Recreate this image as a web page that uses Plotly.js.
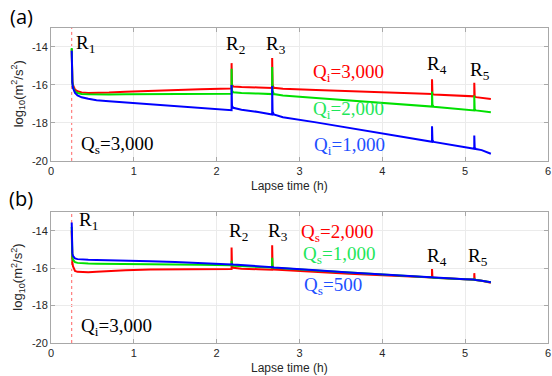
<!DOCTYPE html>
<html>
<head>
<meta charset="utf-8">
<script src="https://cdn.plot.ly/plotly-3.0.1.min.js"></script>
<style>html,body{margin:0;padding:0;background:#fff;}#chart{width:552px;height:376px;}</style>
</head>
<body>
<div id="chart"></div>
<script>
// Shared lapse-time grid (h); repeated times mark the vertical spikes at R2..R5
const time = [0.25,0.253,0.258,0.265,0.275,0.29,0.32,0.37,0.45,0.55,0.7,0.9,1.2,1.5,1.8,2.17,
  2.18,2.18,2.185,2.2,2.3,2.5,2.66,2.67,2.67,2.675,2.69,2.8,3.2,3.6,4.0,4.4,4.59,
  4.6,4.6,4.605,4.62,4.8,5.0,5.1,5.11,5.11,5.115,5.13,5.2,5.31];

// (a) Qs = 3,000, varying Qi
const a_qi3000 = [-14.1,-15.3,-15.8,-16.0,-16.15,-16.25,-16.33,-16.39,-16.42,-16.42,-16.4,-16.36,-16.31,-16.27,-16.23,-16.19,
  -16.19,-14.85,-16.0,-16.08,-16.11,-16.13,-16.16,-16.16,-14.58,-16.0,-16.15,-16.2,-16.26,-16.32,-16.38,-16.44,-16.47,
  -16.47,-15.7,-16.45,-16.5,-16.54,-16.58,-16.6,-16.6,-15.88,-16.6,-16.64,-16.67,-16.74];
const a_qi2000 = [-14.05,-15.3,-15.85,-16.1,-16.25,-16.35,-16.42,-16.47,-16.49,-16.5,-16.5,-16.49,-16.48,-16.47,-16.46,-16.46,
  -16.46,-15.15,-16.3,-16.38,-16.42,-16.45,-16.48,-16.48,-15.05,-16.3,-16.48,-16.55,-16.68,-16.82,-16.95,-17.07,-17.13,
  -17.14,-16.35,-17.05,-17.15,-17.22,-17.3,-17.33,-17.34,-16.55,-17.28,-17.34,-17.37,-17.44];
const a_qi1000 = [-14.2,-15.4,-15.9,-16.15,-16.3,-16.42,-16.55,-16.65,-16.73,-16.8,-16.86,-16.92,-17.0,-17.1,-17.2,-17.33,
  -17.33,-16.0,-17.1,-17.2,-17.3,-17.42,-17.55,-17.56,-16.05,-17.4,-17.55,-17.7,-17.97,-18.26,-18.55,-18.85,-18.98,
  -18.99,-18.17,-18.9,-19.0,-19.12,-19.25,-19.33,-19.36,-18.66,-19.3,-19.37,-19.43,-19.62];

// (b) Qi = 3,000, varying Qs
const b_qs2000 = [-14.0,-15.3,-15.7,-15.9,-16.05,-16.15,-16.2,-16.22,-16.22,-16.2,-16.16,-16.12,-16.08,-16.06,-16.05,-16.05,
  -16.05,-14.9,-15.9,-15.98,-16.03,-16.06,-16.09,-16.09,-14.78,-15.98,-16.07,-16.1,-16.2,-16.3,-16.38,-16.46,-16.5,
  -16.5,-16.05,-16.5,-16.52,-16.56,-16.6,-16.62,-16.62,-16.27,-16.62,-16.64,-16.67,-16.78];
const b_qs1000 = [-13.8,-15.1,-15.4,-15.55,-15.63,-15.68,-15.72,-15.74,-15.75,-15.76,-15.76,-15.77,-15.78,-15.8,-15.82,-15.85,
  -15.85,-15.6,-15.85,-15.87,-15.9,-15.93,-15.97,-15.97,-15.45,-15.95,-15.98,-16.02,-16.13,-16.24,-16.35,-16.46,-16.5,
  -16.5,-16.45,-16.5,-16.51,-16.55,-16.59,-16.62,-16.62,-16.55,-16.62,-16.64,-16.67,-16.76];
const b_qs500 = [-13.56,-14.9,-15.2,-15.35,-15.43,-15.48,-15.52,-15.54,-15.55,-15.56,-15.57,-15.59,-15.63,-15.67,-15.72,-15.8,
  -15.8,-15.75,-15.8,-15.81,-15.84,-15.9,-15.95,-15.95,-15.9,-15.95,-15.97,-16.01,-16.12,-16.24,-16.35,-16.46,-16.5,
  -16.5,-16.48,-16.5,-16.51,-16.55,-16.59,-16.61,-16.62,-16.6,-16.62,-16.64,-16.67,-16.75];

const injectionTime = 0.25;
const xTicks = [0,1,2,3,4,5,6];
const yTicks = [-20,-18,-16,-14];

const RED = '#ff0000', GREEN = '#00e000', BLUE = '#0000ff';
const GREEN_T = '#1ee65a', BLUE_T = '#1e50ff';

function tr(y, color, xa, ya) {
  return {x: time, y: y, type: 'scatter', mode: 'lines', xaxis: xa, yaxis: ya,
    line: {color: color, width: 2}, hoverinfo: 'skip', showlegend: false};
}
const data = [
  tr(a_qi3000, RED, 'x', 'y'), tr(a_qi2000, GREEN, 'x', 'y'), tr(a_qi1000, BLUE, 'x', 'y'),
  tr(b_qs2000, RED, 'x2', 'y2'), tr(b_qs1000, GREEN, 'x2', 'y2'), tr(b_qs500, BLUE, 'x2', 'y2')
];

const axFont = {family: 'Liberation Sans, Arial, sans-serif', size: 11, color: '#262626'};
function xax(anchor) {
  return {anchor: anchor, range: [0,6], tickvals: xTicks, ticktext: xTicks.map(String),
    showgrid: true, gridcolor: '#ebebeb', zeroline: false, showline: true, mirror: 'ticks',
    linecolor: '#a8a8a8', linewidth: 1, ticks: 'inside', ticklen: 4, tickcolor: '#a8a8a8',
    tickfont: axFont, fixedrange: true};
}
function yax(anchor, domain) {
  return {anchor: anchor, domain: domain, range: [-20,-13], tickvals: yTicks, ticktext: yTicks.map(v => '-' + Math.abs(v)),
    showgrid: true, gridcolor: '#ebebeb', zeroline: false, showline: true, mirror: 'ticks',
    linecolor: '#a8a8a8', linewidth: 1, ticks: 'inside', ticklen: 4, tickcolor: '#a8a8a8',
    tickfont: axFont, fixedrange: true};
}

const serif = 'Liberation Serif, Times New Roman, serif';
function ann(xr, yr, x, y, text, color, size) {
  return {xref: xr, yref: yr, x: x, y: y, text: text, showarrow: false,
    xanchor: 'left', yanchor: 'middle', font: {family: serif, size: size || 19, color: color || '#000'}};
}
const sans = 'Liberation Sans, Arial, sans-serif';
function paperTxt(x, y, text, size, angle) {
  return {xref: 'paper', yref: 'paper', x: x, y: y, text: text, showarrow: false,
    xanchor: 'center', yanchor: 'middle', textangle: angle || 0,
    font: {family: sans, size: size, color: '#262626'}};
}

const annotations = [
  ann('x','y',0.28,-13.85,'R<sub>1</sub>'),
  ann('x','y',2.09,-13.9,'R<sub>2</sub>'),
  ann('x','y',2.57,-13.9,'R<sub>3</sub>'),
  ann('x','y',4.52,-14.95,'R<sub>4</sub>'),
  ann('x','y',5.03,-15.27,'R<sub>5</sub>'),
  ann('x','y',0.34,-19.15,'Q<sub>s</sub>=3,000'),
  ann('x','y',3.14,-15.35,'Q<sub>i</sub>=3,000', RED),
  ann('x','y',3.14,-17.3,'Q<sub>i</sub>=2,000', GREEN_T),
  ann('x','y',3.15,-19.2,'Q<sub>i</sub>=1,000', BLUE_T),
  ann('x2','y2',0.31,-13.5,'R<sub>1</sub>'),
  ann('x2','y2',2.13,-14.08,'R<sub>2</sub>'),
  ann('x2','y2',2.6,-14.08,'R<sub>3</sub>'),
  ann('x2','y2',4.52,-15.42,'R<sub>4</sub>'),
  ann('x2','y2',5.01,-15.42,'R<sub>5</sub>'),
  ann('x2','y2',0.34,-19.15,'Q<sub>i</sub>=3,000'),
  ann('x2','y2',2.99,-14.1,'Q<sub>s</sub>=2,000', RED),
  ann('x2','y2',3.02,-15.28,'Q<sub>s</sub>=1,000', GREEN_T),
  ann('x2','y2',3.03,-16.95,'Q<sub>s</sub>=500', BLUE_T),
  {xref:'paper', yref:'paper', x:-0.06, y:1.038, text:'(a)', showarrow:false, xanchor:'center', yanchor:'middle',
   font:{family:'Open Sans, Liberation Sans, sans-serif', size:20, color:'#000'}},
  {xref:'paper', yref:'paper', x:-0.06, y:0.46, text:'(b)', showarrow:false, xanchor:'center', yanchor:'middle',
   font:{family:'Open Sans, Liberation Sans, sans-serif', size:20, color:'#000'}},
  paperTxt(0.479, 0.497, 'Lapse time (h)', 12),
  paperTxt(0.479, -0.079, 'Lapse time (h)', 12),
  paperTxt(-0.066, 0.79, 'log<sub>10</sub>(m<sup>2</sup>/s<sup>2</sup>)', 13, -90),
  paperTxt(-0.066, 0.208, 'log<sub>10</sub>(m<sup>2</sup>/s<sup>2</sup>)', 13, -90)
];

const shapes = [
  {type:'line', xref:'x', yref:'y domain', x0:injectionTime, x1:injectionTime, y0:0, y1:1,
   line:{color:'rgba(255,60,60,0.8)', width:1, dash:'dot'}, layer:'below'},
  {type:'line', xref:'x2', yref:'y2 domain', x0:injectionTime, x1:injectionTime, y0:0, y1:1,
   line:{color:'rgba(255,60,60,0.8)', width:1, dash:'dot'}, layer:'below'}
];

const layout = {
  width: 552, height: 376,
  margin: {l: 51, r: 4, t: 28, b: 33},
  paper_bgcolor: '#fff', plot_bgcolor: '#fff',
  showlegend: false,
  xaxis: xax('y'), yaxis: yax('x', [0.578, 1]),
  xaxis2: xax('y2'), yaxis2: yax('x2', [0, 0.416]),
  annotations: annotations, shapes: shapes
};

Plotly.newPlot('chart', data, layout, {staticPlot: true, displayModeBar: false});
</script>
</body>
</html>
